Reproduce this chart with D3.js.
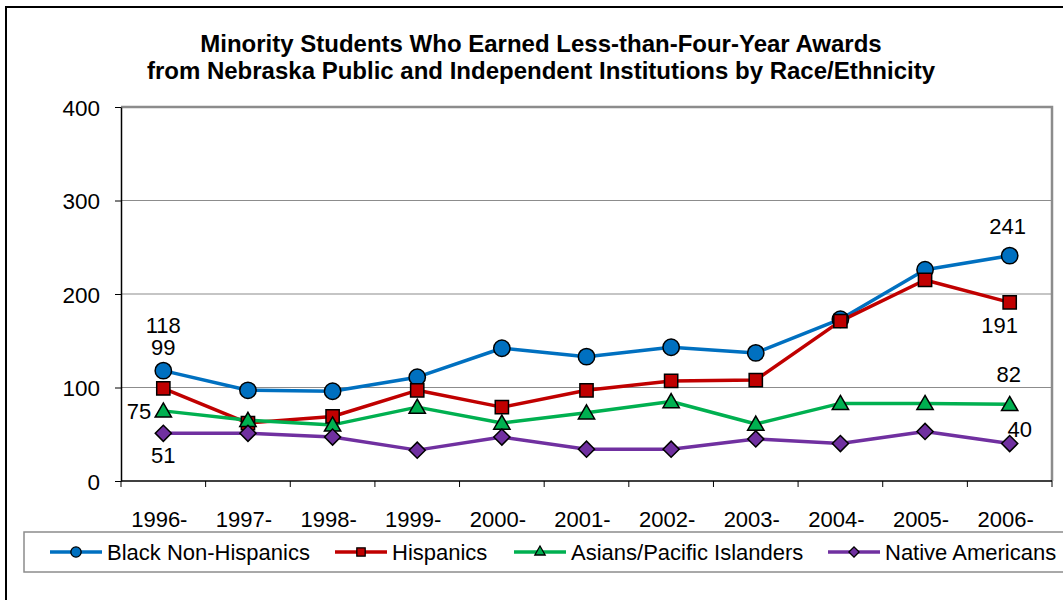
<!DOCTYPE html>
<html>
<head>
<meta charset="utf-8">
<script src="https://cdn.jsdelivr.net/npm/d3@7"></script>
<style>
  body { margin: 0; background: #fff; }
  text { font-family: "Liberation Sans", Arial, sans-serif; fill: #000; }
</style>
</head>
<body>
<div id="chart"></div>
<script>
// data
var years = ["1996-", "1997-", "1998-", "1999-", "2000-", "2001-", "2002-", "2003-", "2004-", "2005-", "2006-"];
var blackNonHispanics = [118, 97, 96, 111, 142, 133, 143, 137, 173, 226, 241];
var hispanics = [99, 62, 69, 97, 79, 97, 107, 108, 171, 215, 191];
var asiansPacific = [75, 65, 60, 79, 62, 73, 85, 61, 83, 83, 82];
var nativeAmericans = [51, 51, 47, 33, 47, 34, 34, 45, 40, 53, 40];
var yTicks = [0, 100, 200, 300, 400];
var titleLines = ["Minority Students Who Earned Less-than-Four-Year Awards",
                  "from Nebraska Public and Independent Institutions by Race/Ethnicity"];

var series = [
  {name: "Black Non-Hispanics", values: blackNonHispanics, color: "#0070C0", symbol: d3.symbolCircle, size: 210, rot: 0},
  {name: "Hispanics", values: hispanics, color: "#C00000", symbol: d3.symbolSquare, size: 175, rot: 0},
  {name: "Asians/Pacific Islanders", values: asiansPacific, color: "#00B050", symbol: d3.symbolTriangle, size: 115, rot: 0},
  {name: "Native Americans", values: nativeAmericans, color: "#7030A0", symbol: d3.symbolSquare, size: 130, rot: 45}
];

// labels shown on first and last points: [series index, point index, dx, dy, anchor]
var pointLabels = [
  [0, 0, 0, -38, "middle"],
  [1, 0, 0, -33, "middle"],
  [2, 0, -12, 8, "end"],
  [3, 0, 0, 30, "middle"],
  [0, 10, -2, -22, "middle"],
  [1, 10, -10, 31, "middle"],
  [2, 10, -1, -22, "middle"],
  [3, 10, 10, -7, "middle"]
];

var W = 1063, H = 600;
var margin = {top: 107, left: 121, right: 11, bottom: 119};
var width = W - margin.left - margin.right,
    height = H - margin.top - margin.bottom;

var svg = d3.select("#chart").append("svg")
    .attr("width", W)
    .attr("height", H);

// outer chart border
svg.append("rect")
    .attr("x", 6).attr("y", 7)
    .attr("width", W + 10).attr("height", H + 10)
    .attr("fill", "none").attr("stroke", "#000").attr("stroke-width", 2);

// title
svg.selectAll(".title").data(titleLines).enter().append("text")
    .attr("class", "title")
    .attr("x", 541)
    .attr("y", function(d, i) { return 52 + i * 27; })
    .attr("text-anchor", "middle")
    .style("font-weight", "bold")
    .style("font-size", "24px")
    .text(function(d) { return d; });

var g = svg.append("g")
    .attr("transform", "translate(" + margin.left + "," + margin.top + ")");

var x = d3.scaleBand().domain(years).range([0, width]);
var y = d3.scaleLinear().domain([0, 400]).range([height, 0]);
function cx(i) { return x(years[i]) + x.bandwidth() / 2; }

// gridlines
g.append("g").selectAll("line").data(yTicks.slice(1, 4)).enter().append("line")
    .attr("x1", 0).attr("x2", width)
    .attr("y1", function(d) { return y(d); })
    .attr("y2", function(d) { return y(d); })
    .attr("stroke", "#8c8c8c").attr("stroke-width", 1.2);

// plot frame top & right (gray)
g.append("path")
    .attr("d", "M0," + y(400) + "H" + width + "V" + height)
    .attr("fill", "none").attr("stroke", "#8c8c8c").attr("stroke-width", 2.5);

// y axis
var yAxis = g.append("g")
    .call(d3.axisLeft(y).tickValues(yTicks).tickSize(6).tickSizeOuter(0));
yAxis.select(".domain").attr("stroke", "#000").attr("stroke-width", 1.5);
yAxis.selectAll(".tick line").attr("stroke", "#000");
yAxis.selectAll(".tick text")
    .attr("x", -21).attr("dy", "0.36em")
    .style("font-size", "22.5px")
    .style("font-family", "Liberation Sans, Arial, sans-serif");

// x axis: ticks on category boundaries
var xAxis = g.append("g")
    .attr("transform", "translate(0," + height + ")");
xAxis.append("line")
    .attr("x1", 0).attr("x2", width)
    .attr("stroke", "#000").attr("stroke-width", 1.5);
xAxis.selectAll(".xt").data(years.concat(["end"])).enter().append("line")
    .attr("class", "xt")
    .attr("x1", function(d, i) { return i * x.step(); })
    .attr("x2", function(d, i) { return i * x.step(); })
    .attr("y1", 0).attr("y2", 6)
    .attr("stroke", "#000");
xAxis.selectAll(".xl").data(years).enter().append("text")
    .attr("class", "xl")
    .attr("x", function(d, i) { return cx(i) - 4; })
    .attr("y", 46)
    .attr("text-anchor", "middle")
    .style("font-size", "22px")
    .text(function(d) { return d; });

// lines and markers
var line = d3.line()
    .x(function(d, i) { return cx(i); })
    .y(function(d) { return y(d); });

series.forEach(function(s) {
  g.append("path")
      .datum(s.values)
      .attr("d", line)
      .attr("fill", "none")
      .attr("stroke", s.color)
      .attr("stroke-width", 3.5)
      .attr("stroke-linejoin", "round");
});

series.forEach(function(s) {
  g.append("g").selectAll("path").data(s.values).enter().append("path")
      .attr("transform", function(d, i) {
        var dy = s.symbol === d3.symbolTriangle ? 1.5 : 0;
        return "translate(" + cx(i) + "," + (y(d) + dy) + ") rotate(" + s.rot + ")";
      })
      .attr("d", d3.symbol().type(s.symbol).size(s.size))
      .attr("fill", s.color)
      .attr("stroke", "#000")
      .attr("stroke-width", 1.5);
});

// data labels
g.selectAll(".dl").data(pointLabels).enter().append("text")
    .attr("class", "dl")
    .attr("x", function(d) { return cx(d[1]) + d[2]; })
    .attr("y", function(d) { return y(series[d[0]].values[d[1]]) + d[3]; })
    .attr("text-anchor", function(d) { return d[4]; })
    .style("font-size", "22px")
    .text(function(d) { return series[d[0]].values[d[1]]; });

// legend
var legend = svg.append("g");
legend.append("rect")
    .attr("x", 24).attr("y", 532)
    .attr("width", 1080).attr("height", 40)
    .attr("fill", "#fff").attr("stroke", "#8c8c8c").attr("stroke-width", 1.5);

var legendX = [50, 335, 514, 828];
var item = legend.selectAll(".li").data(series).enter().append("g")
    .attr("class", "li")
    .attr("transform", function(d, i) { return "translate(" + legendX[i] + ",552)"; });
item.append("line")
    .attr("x1", 0).attr("x2", 52)
    .attr("stroke", function(d) { return d.color; })
    .attr("stroke-width", 3.5);
item.append("path")
    .attr("transform", function(d) { return "translate(26,0) rotate(" + d.rot + ")"; })
    .attr("d", function(d) { return d3.symbol().type(d.symbol).size(d.size * 0.4)(); })
    .attr("fill", function(d) { return d.color; })
    .attr("stroke", "#000").attr("stroke-width", 1.3);
item.append("text")
    .attr("x", 57).attr("y", 8)
    .style("font-size", "22px")
    .text(function(d) { return d.name; });
</script>
</body>
</html>
